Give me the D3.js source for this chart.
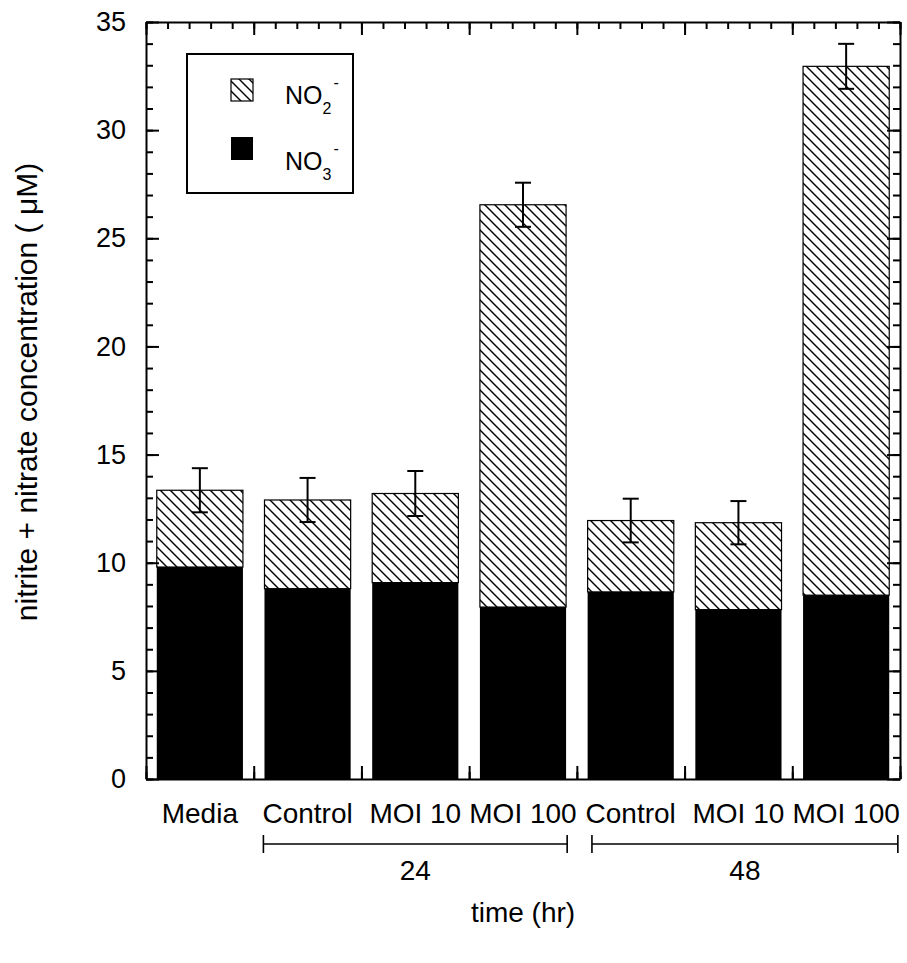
<!DOCTYPE html>
<html lang="en">
<head>
<meta charset="UTF-8" />
<script src="https://d3js.org/d3.v7.min.js"></script>
<title>nitrite + nitrate</title>
<style>
  body { margin: 0; background: #fff; }
  text { font-family: "Liberation Sans", Arial, Helvetica, sans-serif; fill: #000; }
  .frame line, .frame path { stroke: #000; stroke-width: 2; }
</style>
</head>
<body>
<script>
// values
const categories = ["Media", "Control", "MOI 10", "MOI 100", "Control", "MOI 10", "MOI 100"];
const centers    = [2.5, 7.5, 12.5, 17.5, 22.5, 27.5, 32.5];
const nitrate    = [9.8, 8.8, 9.08, 7.95, 8.65, 7.83, 8.5];     // NO3- (black)
const total      = [13.35, 12.9, 13.2, 26.55, 11.95, 11.85, 32.95]; // NO2- + NO3-
const errors     = [1.02, 1.02, 1.04, 1.02, 1.01, 1.0, 1.04];
const groups     = [{ label: "24", from: 5.45, to: 19.55 }, { label: "48", from: 20.7, to: 34.9 }];
const yTicks     = [0, 5, 10, 15, 20, 25, 30, 35];

const W = 907, H = 963;
const pLeft = 146, pRight = 900, pTop = 22, pBottom = 779;
const barW = 4;

const svg = d3.select("body").append("svg")
  .attr("width", W).attr("height", H);

const x = d3.scaleLinear().domain([0, 35]).range([pLeft, pRight]);
const y = d3.scaleLinear().domain([0, 35]).range([pBottom, pTop]);

// hatch pattern
const defs = svg.append("defs");
const pat = defs.append("pattern")
  .attr("id", "hatch")
  .attr("patternUnits", "userSpaceOnUse")
  .attr("width", 10).attr("height", 10);
pat.append("rect").attr("width", 10).attr("height", 10).attr("fill", "#fff");
pat.append("path")
  .attr("d", "M-2,-2 L12,12 M-2,8 L2,12 M8,-2 L12,2")
  .attr("stroke", "#000").attr("stroke-width", 1.4);

const data = categories.map((c, i) => ({
  name: c, x: centers[i], no3: nitrate[i], tot: total[i], err: errors[i]
}));

// bars
const bars = svg.append("g");
bars.selectAll("rect.no2").data(data).join("rect")
  .attr("class", "no2")
  .attr("x", d => x(d.x - barW / 2))
  .attr("width", d => x(d.x + barW / 2) - x(d.x - barW / 2))
  .attr("y", d => y(d.tot))
  .attr("height", d => y(d.no3) - y(d.tot))
  .attr("fill", "url(#hatch)")
  .attr("stroke", "#000").attr("stroke-width", 1.2);
bars.selectAll("rect.no3").data(data).join("rect")
  .attr("class", "no3")
  .attr("x", d => x(d.x - barW / 2))
  .attr("width", d => x(d.x + barW / 2) - x(d.x - barW / 2))
  .attr("y", d => y(d.no3))
  .attr("height", d => y(0) - y(d.no3))
  .attr("fill", "#000");

// error bars
const eb = svg.append("g").attr("stroke", "#000").attr("stroke-width", 2);
eb.selectAll("line.v").data(data).join("line").attr("class", "v")
  .attr("x1", d => x(d.x)).attr("x2", d => x(d.x))
  .attr("y1", d => y(d.tot + d.err)).attr("y2", d => y(d.tot - d.err));
eb.selectAll("line.t").data(data).join("line").attr("class", "t")
  .attr("x1", d => x(d.x) - 8).attr("x2", d => x(d.x) + 8)
  .attr("y1", d => y(d.tot + d.err)).attr("y2", d => y(d.tot + d.err));
eb.selectAll("line.b").data(data).join("line").attr("class", "b")
  .attr("x1", d => x(d.x) - 8).attr("x2", d => x(d.x) + 8)
  .attr("y1", d => y(d.tot - d.err)).attr("y2", d => y(d.tot - d.err));

// frame with inward ticks on all sides
const minor = d3.range(0, 36);
function addAxis(axisFn, scale, tr, major, labels) {
  const gMin = svg.append("g").attr("class", "frame").attr("transform", tr);
  gMin.call(axisFn(scale).tickValues(minor).tickSize(-7).tickFormat(""));
  gMin.select(".domain").remove();
  const gMaj = svg.append("g").attr("class", "frame").attr("transform", tr);
  gMaj.call(axisFn(scale).tickValues(major).tickSize(-13).tickSizeOuter(0)
    .tickPadding(20).tickFormat(labels ? d3.format("d") : ""));
  return gMaj;
}
const gy = addAxis(d3.axisLeft, y, `translate(${pLeft},0)`, yTicks, true);
gy.selectAll("text").attr("font-size", 27);
addAxis(d3.axisRight, y, `translate(${pRight},0)`, yTicks, false);
addAxis(d3.axisTop, x, `translate(0,${pTop})`, yTicks, false);
addAxis(d3.axisBottom, x, `translate(0,${pBottom})`, yTicks, false);

// category labels
svg.append("g").selectAll("text").data(data).join("text")
  .attr("x", d => x(d.x)).attr("y", 823)
  .attr("text-anchor", "middle")
  .attr("font-size", 28)
  .text(d => d.name);

// group brackets
const gb = svg.append("g");
groups.forEach(g => {
  const x0 = x(g.from), x1 = x(g.to), yy = 844;
  gb.append("path")
    .attr("d", `M${x0},${yy - 9}V${yy + 9}M${x0},${yy}H${x1}M${x1},${yy - 9}V${yy + 9}`)
    .attr("stroke", "#000").attr("stroke-width", 1.6).attr("fill", "none");
  gb.append("text")
    .attr("x", (x0 + x1) / 2).attr("y", 880)
    .attr("text-anchor", "middle").attr("font-size", 28)
    .text(g.label);
});

// axis titles
svg.append("text")
  .attr("transform", `translate(37,392) rotate(-90)`)
  .attr("text-anchor", "middle").attr("font-size", 30)
  .text("nitrite + nitrate concentration ( \u03bcM)");
svg.append("text")
  .attr("x", 523).attr("y", 922)
  .attr("text-anchor", "middle").attr("font-size", 28)
  .text("time (hr)");

// legend
const lg = svg.append("g");
lg.append("rect").attr("x", 187).attr("y", 54).attr("width", 166).attr("height", 139)
  .attr("fill", "#fff").attr("stroke", "#000").attr("stroke-width", 2);
lg.append("rect").attr("x", 231).attr("y", 79).attr("width", 22).attr("height", 22)
  .attr("fill", "url(#hatch)").attr("stroke", "#000").attr("stroke-width", 1.2);
lg.append("rect").attr("x", 231).attr("y", 137).attr("width", 22).attr("height", 23)
  .attr("fill", "#000");
[["2", 104], ["3", 170]].forEach(([sub, by]) => {
  const t = lg.append("text").attr("x", 285).attr("y", by).attr("font-size", 25);
  t.append("tspan").text("NO");
  t.append("tspan").attr("font-size", 16).attr("dy", 10).text(sub);
  t.append("tspan").attr("font-size", 16).attr("dx", 2).attr("dy", -26).text("-");
});
</script>
</body>
</html>
